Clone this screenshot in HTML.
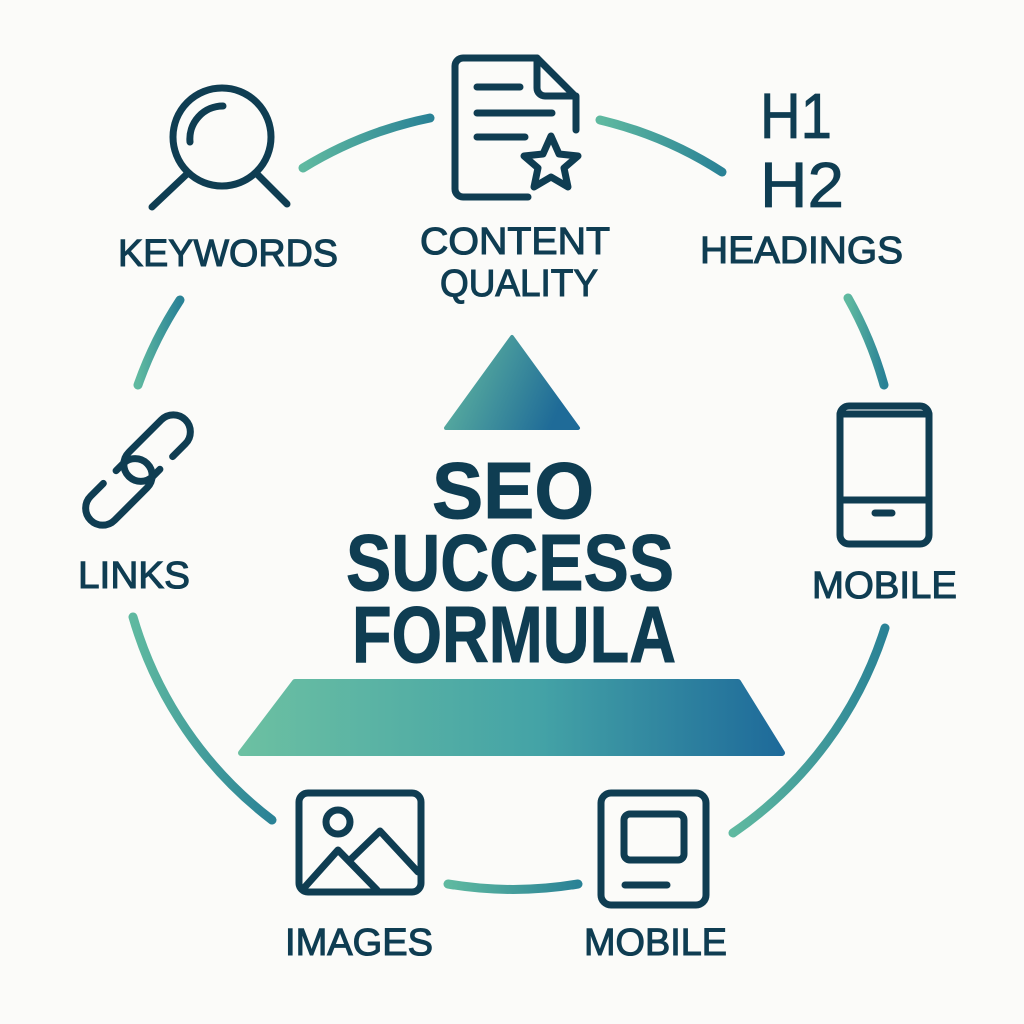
<!DOCTYPE html>
<html><head><meta charset="utf-8"><style>
html,body{margin:0;padding:0;background:#fbfbf9;}
svg{display:block}
text{font-family:"Liberation Sans",sans-serif;fill:#0f3d52;}
</style></head><body>
<svg width="1024" height="1024" viewBox="0 0 1024 1024">
<defs>
<linearGradient id="g1" x1="0" y1="0" x2="1" y2="0.3"><stop offset="0" stop-color="#66bca0"/><stop offset="1" stop-color="#1f6b98"/></linearGradient>
<linearGradient id="g2" x1="0" y1="0" x2="1" y2="0"><stop offset="0" stop-color="#6cc0a2"/><stop offset="0.55" stop-color="#44a3a6"/><stop offset="1" stop-color="#1e6a9a"/></linearGradient>
<linearGradient id="ring" x1="0" y1="0" x2="1" y2="0"><stop offset="0" stop-color="#5fb9a0"/><stop offset="1" stop-color="#2a8296"/></linearGradient>
</defs>
<rect width="1024" height="1024" fill="#fbfbf9"/>
<g fill="none" stroke="url(#ring)" stroke-width="9" stroke-linecap="round">
<path d="M303 168 A392 392 0 0 1 430 118"/>
<path d="M600 120 A392 392 0 0 1 722 172"/>
<path d="M848 298 A392 392 0 0 1 884 385"/>
<path d="M885 628 A392 392 0 0 1 733 833"/>
<path d="M448 884 A392 392 0 0 0 578 884"/>
<path d="M133 617 A392 392 0 0 0 272 820"/>
<path d="M138 385 A392 392 0 0 1 180 300"/>
</g>
<g fill="none" stroke="#0f3d52" stroke-width="7" stroke-linecap="round" stroke-linejoin="round">
<!-- magnifier -->
<circle cx="222" cy="137" r="49"/>
<path d="M190 142 A33 33 0 0 1 223 106"/>
<path d="M188 173 L152 207 M256 173 L287 204"/>
<!-- document -->
<path d="M528 197 H463 a8 8 0 0 1 -8 -8 V66 a8 8 0 0 1 8 -8 H537 L576 97 V130"/>
<path d="M537 58 V88 a8 8 0 0 0 8 8 H576"/>
<path d="M477 87 H520 M477 113 H552 M477 137 H525"/>
<path d="M551 136 L559 154 L578 156 L564 168 L568 187 L551 177 L534 187 L538 168 L524 156 L543 154 Z"/>
<!-- phone -->
<rect x="840" y="406" width="89" height="138" rx="9"/>
<path d="M840 414 H929 M840 500 H929 M875 513 H892"/>
<!-- links -->
<g transform="translate(138 470) rotate(-45)">
<path d="M34 15 H52 a17 17 0 0 0 0 -34 H6 a17 17 0 0 0 0 34 H16"/>
<path d="M-34 -15 H-52 a17 17 0 0 0 0 34 H-6 a17 17 0 0 0 0 -34 H-16"/>
</g>
<!-- image -->
<rect x="299" y="793" width="122" height="99" rx="9"/>
<circle cx="338" cy="822" r="12"/>
<path d="M304 888 L338 850 L377 890 M350 860 L380 831 L418 872"/>
<!-- mobile square -->
<rect x="601" y="793" width="105" height="112" rx="10"/>
<rect x="624" y="814" width="60" height="46" rx="6"/>
<path d="M625 885 H667"/>
</g>
<g font-size="38" stroke="#0f3d52" stroke-width="1.1">
<text x="118" y="266" textLength="220" lengthAdjust="spacingAndGlyphs">KEYWORDS</text>
<text x="420" y="254" textLength="190" lengthAdjust="spacingAndGlyphs">CONTENT</text>
<text x="440" y="296" textLength="158" lengthAdjust="spacingAndGlyphs">QUALITY</text>
<text x="700" y="263" textLength="203" lengthAdjust="spacingAndGlyphs">HEADINGS</text>
<text x="812" y="598" textLength="145" lengthAdjust="spacingAndGlyphs">MOBILE</text>
<text x="78" y="588" textLength="112" lengthAdjust="spacingAndGlyphs">LINKS</text>
<text x="285" y="955" textLength="148" lengthAdjust="spacingAndGlyphs">IMAGES</text>
<text x="584" y="955" textLength="143" lengthAdjust="spacingAndGlyphs">MOBILE</text>
</g>
<g font-size="64" stroke="#0f3d52" stroke-width="0.8">
<text x="760" y="138" textLength="72" lengthAdjust="spacingAndGlyphs">H1</text>
<text x="760" y="207" textLength="84" lengthAdjust="spacingAndGlyphs">H2</text>
</g>
<path d="M512 337 L578 428 H446 Z" fill="url(#g1)" stroke="url(#g1)" stroke-width="4" stroke-linejoin="round"/>
<g font-size="80" font-weight="bold" stroke="#0f3d52" stroke-width="1">
<text x="432" y="518" textLength="162" lengthAdjust="spacingAndGlyphs">SEO</text>
<text x="346" y="590" textLength="328" lengthAdjust="spacingAndGlyphs">SUCCESS</text>
<text x="352" y="662" textLength="324" lengthAdjust="spacingAndGlyphs">FORMULA</text>
</g>
<path d="M295 682 H738 L782 753 H241 Z" fill="url(#g2)" stroke="url(#g2)" stroke-width="6" stroke-linejoin="round"/>
</svg>
</body></html>
